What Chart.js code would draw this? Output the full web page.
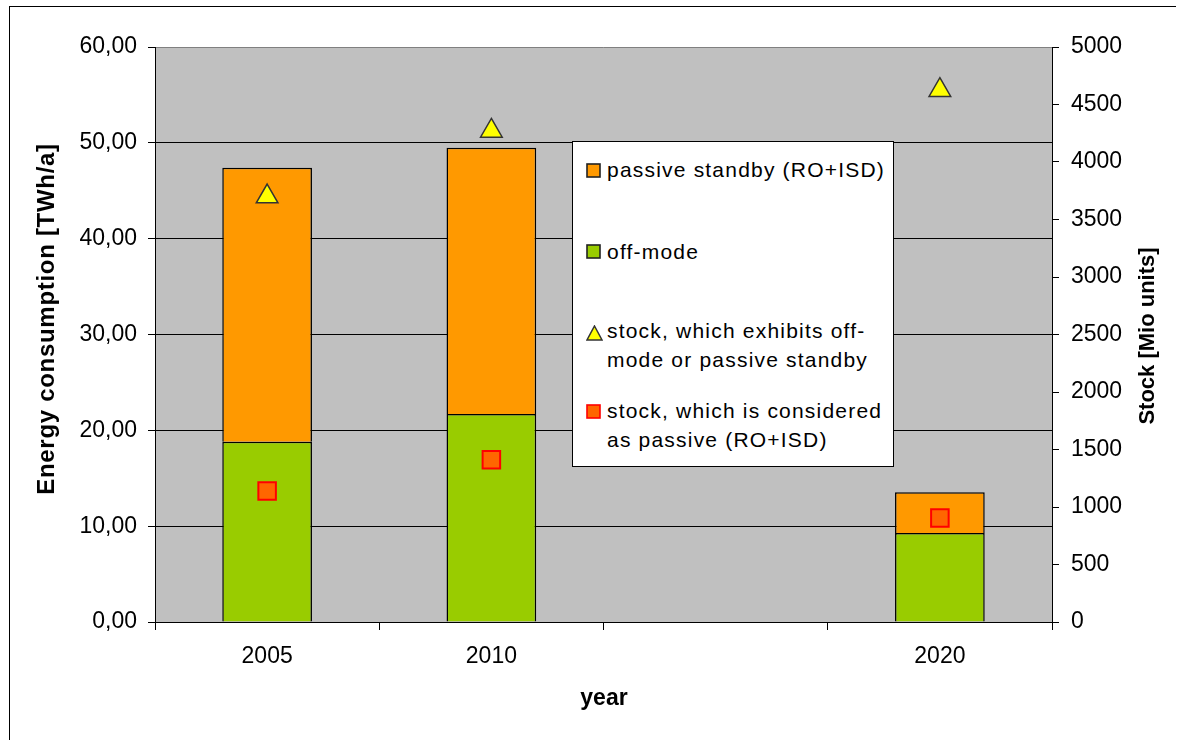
<!DOCTYPE html>
<html>
<head>
<meta charset="utf-8">
<script src="https://cdn.jsdelivr.net/npm/chart.js@4.4.1/dist/chart.umd.min.js"></script>
<style>
  html, body { margin: 0; padding: 0; background: #fff; }
  #wrap { position: relative; width: 1179px; height: 740px; overflow: hidden;
          font-family: "Liberation Sans", Arial, sans-serif; color: #000; }
  #c { position: absolute; left: 0; top: 0; }
  .frame { position: absolute; left: 9px; top: 6px; width: 1166px; height: 800px;
           border-left: 1.5px solid #000; border-top: 1.5px solid #000; }
  .axis-title { position: absolute; font-weight: bold; white-space: nowrap;
                line-height: 1; text-align: center; }
  #legend { position: absolute; left: 572px; top: 141px; width: 322px; height: 326px;
            background: #fff; border: 1px solid #000; box-sizing: border-box; }
  .lg-text { position: absolute; left: 34px; font-size: 21px; letter-spacing: 1.2px;
             line-height: 29.5px; white-space: pre; }
  .lg-sym { position: absolute; left: 13px; }
</style>
</head>
<body>
<div id="wrap">
  <div class="frame"></div>
  <canvas id="c" width="1179" height="740"></canvas>
  <div class="axis-title" id="ty" style="font-size:24px;letter-spacing:0.7px;width:420px;left:-163.7px;top:306.5px;transform:rotate(-90deg);">Energy consumption [TWh/a]</div>
  <div class="axis-title" id="ty1" style="font-size:22px;width:300px;left:997px;top:325px;transform:rotate(-90deg);">Stock [Mio units]</div>
  <div class="axis-title" id="tx" style="font-size:23px;width:200px;left:504px;top:685.5px;">year</div>
  <div id="legend"></div>
</div>
<script>
// Categories along the x axis (the 2015 slot is left empty)
const years = ['2005', '2010', '', '2020'];

// Energy consumption, TWh/a (stacked bars)
const offMode = [18.8, 21.7, null, 9.3];
const passiveStandby = [28.6, 27.8, null, 4.25];

// Stock, Mio units (markers on the right axis)
const stockOffOrPassive = [3700, 4270, null, 4625];
const stockPassive = [1140, 1410, null, 905];

// Axis ranges and tick steps
const energyTicks = [0, 10, 20, 30, 40, 50, 60];
const stockTicks = [0, 500, 1000, 1500, 2000, 2500, 3000, 3500, 4000, 4500, 5000];

const FONT = '"Liberation Sans", Arial, sans-serif';

const plotBackground = {
  id: 'plotBackground',
  beforeDraw(chart) {
    const { ctx, chartArea: a } = chart;
    ctx.save();
    ctx.fillStyle = '#C0C0C0';
    ctx.fillRect(a.left, a.top, a.right - a.left, a.bottom - a.top);
    ctx.strokeStyle = '#808080';
    ctx.lineWidth = 1;
    ctx.beginPath();
    ctx.moveTo(a.left, Math.round(a.top) + 0.5);
    ctx.lineTo(a.right, Math.round(a.top) + 0.5);
    ctx.stroke();
    ctx.restore();
  }
};

const chart = new Chart(document.getElementById('c'), {
  data: {
    labels: years,
    datasets: [
      {
        type: 'line',
        label: 'stock, which exhibits off-\nmode or passive standby',
        data: stockOffOrPassive,
        yAxisID: 'y1',
        showLine: false,
        pointStyle: 'triangle',
        pointRadius: 12.5,
        backgroundColor: '#FFFF00',
        borderColor: '#333333',
        borderWidth: 1.5,
        order: 0
      },
      {
        type: 'line',
        label: 'stock, which is considered\nas passive (RO+ISD)',
        data: stockPassive,
        yAxisID: 'y1',
        showLine: false,
        pointStyle: 'rect',
        pointRadius: 12.4,
        backgroundColor: '#FF6600',
        borderColor: '#FF0000',
        borderWidth: 2,
        order: 0
      },
      {
        type: 'bar',
        label: 'off-mode',
        data: offMode,
        yAxisID: 'y',
        backgroundColor: '#99CC00',
        borderColor: '#000000',
        borderWidth: 1.5,
        barPercentage: 0.4,
        categoryPercentage: 1,
        order: 1
      },
      {
        type: 'bar',
        label: 'passive standby (RO+ISD)',
        data: passiveStandby,
        yAxisID: 'y',
        backgroundColor: '#FF9900',
        borderColor: '#000000',
        borderWidth: 1.5,
        barPercentage: 0.4,
        categoryPercentage: 1,
        order: 1
      }
    ]
  },
  options: {
    responsive: false,
    animation: false,
    devicePixelRatio: 1,
    layout: { padding: { top: 47, left: 0, right: 0, bottom: 0 } },
    plugins: { legend: { display: false }, tooltip: { enabled: false } },
    scales: {
      x: {
        type: 'category',
        stacked: true,
        offset: true,
        grid: { offset: true, drawOnChartArea: false, drawTicks: true, tickLength: 8,
                color: '#000', lineWidth: 1 },
        border: { display: true, color: '#000', width: 1 },
        ticks: { font: { family: FONT, size: 23 }, color: '#000', padding: 13,
                 maxRotation: 0, autoSkip: false },
        afterFit(s) { s.height = 118; }
      },
      y: {
        position: 'left',
        stacked: true,
        min: energyTicks[0],
        max: energyTicks[energyTicks.length - 1],
        afterBuildTicks(s) { s.ticks = energyTicks.map(v => ({ value: v })); },
        ticks: {
          font: { family: FONT, size: 23 }, color: '#000', padding: 11,
          callback: v => v.toFixed(2).replace('.', ',')
        },
        grid: {
          color: c => (c.tick && c.tick.value === 60) ? 'rgba(0,0,0,0)' : '#000',
          tickColor: '#000', tickLength: 7, lineWidth: 1
        },
        border: { display: true, color: '#000', width: 1 },
        afterFit(s) { s.width = 155; }
      },
      y1: {
        position: 'right',
        min: stockTicks[0],
        max: stockTicks[stockTicks.length - 1],
        afterBuildTicks(s) { s.ticks = stockTicks.map(v => ({ value: v })); },
        ticks: { font: { family: FONT, size: 23 }, color: '#000', padding: 12,
                 callback: v => String(v) },
        grid: { drawOnChartArea: false, tickLength: 7, color: '#000', lineWidth: 1 },
        border: { display: true, color: '#000', width: 1 },
        afterFit(s) { s.width = 127; }
      }
    }
  },
  plugins: [plotBackground]
});

// Legend built from the chart's datasets, in the order shown in the box
(function buildLegend() {
  const ds = chart.data.datasets;
  const entries = [
    { d: ds[3], textTop: 13.2, symTop: 20.7, shape: 'square' },
    { d: ds[2], textTop: 94.5, symTop: 101.7, shape: 'square' },
    { d: ds[0], textTop: 173.5, symTop: 183, shape: 'triangle' },
    { d: ds[1], textTop: 253.5, symTop: 262, shape: 'square' }
  ];
  const box = document.getElementById('legend');
  entries.forEach(e => {
    const sym = document.createElement('div');
    sym.className = 'lg-sym';
    sym.style.top = e.symTop + 'px';
    const stroke = e.d.type === 'bar' ? '#222' : e.d.borderColor;
    if (e.shape === 'triangle') {
      sym.innerHTML = '<svg width="17" height="16" viewBox="0 0 17 16">' +
        '<polygon points="8.5,1 16,15 1,15" fill="' + e.d.backgroundColor +
        '" stroke="' + stroke + '" stroke-width="1.5"/></svg>';
    } else {
      sym.innerHTML = '<svg width="15" height="15" viewBox="0 0 15 15">' +
        '<rect x="1" y="1" width="13" height="13" fill="' + e.d.backgroundColor +
        '" stroke="' + stroke + '" stroke-width="1.6"/></svg>';
    }
    box.appendChild(sym);
    const t = document.createElement('div');
    t.className = 'lg-text';
    t.style.top = e.textTop + 'px';
    t.textContent = e.d.label;
    box.appendChild(t);
  });
})();
</script>
</body>
</html>
